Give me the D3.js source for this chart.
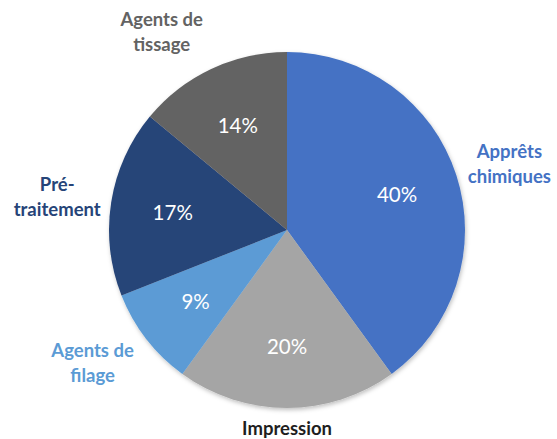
<!DOCTYPE html>
<html>
<head>
<meta charset="utf-8">
<script src="https://cdn.jsdelivr.net/npm/d3@7"></script>
<style>
  body { margin: 0; background: #fff; }
  .cat { font-family: Lato, "Open Sans", sans-serif; font-weight: bold; font-size: 18.5px; }
  .pct { font-family: Lato, "Open Sans", sans-serif; font-size: 20.5px; fill: #fff; }
</style>
</head>
<body>
<svg></svg>
<script>
const WIDTH = 557;
const HEIGHT = 439;
const CX = 287;
const CY = 230;
const RADIUS = 178;

const categories = ["Apprêts chimiques", "Impression", "Agents de filage", "Pré-traitement", "Agents de tissage"];
const labelLines = [["Apprêts", "chimiques"], ["Impression"], ["Agents de", "filage"], ["Pré-", "traitement"], ["Agents de", "tissage"]];
const shares = [40, 20, 9, 17, 14];
const colors = ["#4472C4", "#A5A5A5", "#5B9BD5", "#264478", "#636363"];
const labelColors = ["#4472C4", "#1E1E1E", "#5B9BD5", "#264478", "#636363"];

const data = categories.map((c, i) => ({
  name: c, lines: labelLines[i], value: shares[i], color: colors[i], labelColor: labelColors[i]
}));

const svg = d3.select("svg").attr("width", WIDTH).attr("height", HEIGHT);

const defs = svg.append("defs");
defs.append("filter").attr("id", "shadow")
  .attr("x", "-10%").attr("y", "-10%").attr("width", "120%").attr("height", "120%")
  .append("feDropShadow")
  .attr("dx", 1).attr("dy", 2).attr("stdDeviation", 2)
  .attr("flood-color", "#000").attr("flood-opacity", 0.25);

const pie = d3.pie().sort(null).value((d) => d.value);
const arcs = pie(data);

const arc = d3.arc().innerRadius(0).outerRadius(RADIUS);
const labelArc = d3.arc().innerRadius(RADIUS * 0.3).outerRadius(RADIUS);

const chart = svg.append("g").attr("transform", `translate(${CX},${CY})`);

chart.append("g")
  .attr("filter", "url(#shadow)")
  .selectAll("path")
  .data(arcs)
  .enter()
  .append("path")
  .attr("d", arc)
  .attr("fill", (d) => d.data.color);

chart.append("g")
  .selectAll("text")
  .data(arcs)
  .enter()
  .append("text")
  .classed("pct", true)
  .attr("text-anchor", "middle")
  .attr("dominant-baseline", "central")
  .attr("transform", (d) => `translate(${labelArc.centroid(d)})`)
  .text((d) => `${d.data.value}%`);

// outside category labels, box corner touches a point just off the rim
const GAP = 9;
const LINE_H = 25;
const cats = chart.append("g")
  .selectAll("g")
  .data(arcs)
  .enter()
  .append("g");

cats.each(function (d) {
  const g = d3.select(this);
  const text = g.append("text")
    .classed("cat", true)
    .attr("fill", d.data.labelColor)
    .attr("text-anchor", "middle");
  d.data.lines.forEach((line, i) => {
    text.append("tspan")
      .attr("x", 0)
      .attr("y", (i - (d.data.lines.length - 1) / 2) * LINE_H)
      .attr("dominant-baseline", "central")
      .text(line);
  });
  const box = text.node().getBBox();
  const mid = (d.startAngle + d.endAngle) / 2;
  const s = Math.sin(mid);
  const c = Math.cos(mid);
  const r = RADIUS + GAP + (Math.abs(s) > 0.1 ? 10 * Math.abs(c) : 0);
  const px = s * r;
  const py = -c * r;
  const ox = Math.abs(s) > 0.1 ? Math.sign(s) * box.width / 2 : 0;
  const oy = -c * box.height / 2;
  g.attr("transform", `translate(${px + ox},${py + oy})`);
});
</script>
</body>
</html>
